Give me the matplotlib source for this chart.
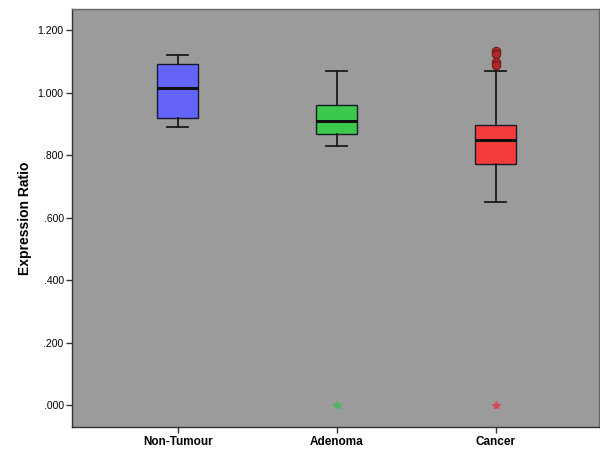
import numpy as np
import matplotlib
matplotlib.use("Agg")
from matplotlib import pyplot as plt

plt.rcParams['font.family'] = ['Liberation Sans', 'DejaVu Sans']

# *** box statistics ***
groups = ["Non-Tumour", "Adenoma", "Cancer"]
whisker_low = [0.890, 0.830, 0.650]
q1 = [0.920, 0.870, 0.774]
median = [1.016, 0.911, 0.851]
q3 = [1.092, 0.961, 0.896]
whisker_high = [1.121, 1.071, 1.071]
circle_outliers = [[], [], [1.134, 1.124, 1.100, 1.090]]
star_outliers = [[], [0.0], [0.0]]

box_colors = ["#6464fa", "#3cc84b", "#f53c3c"]
star_colors = ["#6464fa", "#4cb860", "#d84858"]
yticks = [0.0, 0.2, 0.4, 0.6, 0.8, 1.0, 1.2]
ytick_labels = [".000", ".200", ".400", ".600", ".800", "1.000", "1.200"]

stats = []
for i in range(len(groups)):
    stats.append({"label": groups[i], "whislo": whisker_low[i], "q1": q1[i],
                  "med": median[i], "q3": q3[i], "whishi": whisker_high[i],
                  "fliers": []})

fig = plt.figure(figsize=(6, 4.54), dpi=100)
ax = fig.add_axes([0.12, 0.059, 0.878, 0.922])
ax.set_facecolor("#9b9b9b")

bp = ax.bxp(stats, positions=[1, 2, 3], widths=0.26, patch_artist=True,
            showfliers=False,
            boxprops=dict(edgecolor="#1a1a2a", linewidth=1.0),
            medianprops=dict(color="#101010", linewidth=2.2),
            whiskerprops=dict(color="#1a1a1a", linewidth=1.3),
            capprops=dict(color="#1a1a1a", linewidth=1.3),
            capwidths=0.13)
for patch, c in zip(bp["boxes"], box_colors):
    patch.set_facecolor(c)

for i in range(len(groups)):
    if circle_outliers[i]:
        ax.plot([i + 1] * len(circle_outliers[i]), circle_outliers[i], "o",
                ms=6, mfc="#b02828", mec="#701818", mew=0.8, ls="none")
    if star_outliers[i]:
        ax.plot([i + 1] * len(star_outliers[i]), star_outliers[i], "*",
                ms=6, color=star_colors[i], ls="none")

ax.set_xlim(0.335, 3.65)
ax.set_ylim(-0.07, 1.27)
ax.set_yticks(yticks)
ax.set_yticklabels(ytick_labels, fontsize=7.5)
ax.set_xticks([1, 2, 3])
ax.set_xticklabels(groups, fontsize=8.5, fontweight="bold")
ax.tick_params(axis="both", length=4, width=1, color="#333333", pad=2)
ax.set_ylabel("Expression Ratio", fontsize=10, fontweight="bold", labelpad=4)

for s in ax.spines.values():
    s.set_color("#666666")
    s.set_linewidth(1.0)
ax.spines["left"].set_color("#333333")
ax.spines["bottom"].set_color("#333333")

fig.savefig("out.png", dpi=100)
